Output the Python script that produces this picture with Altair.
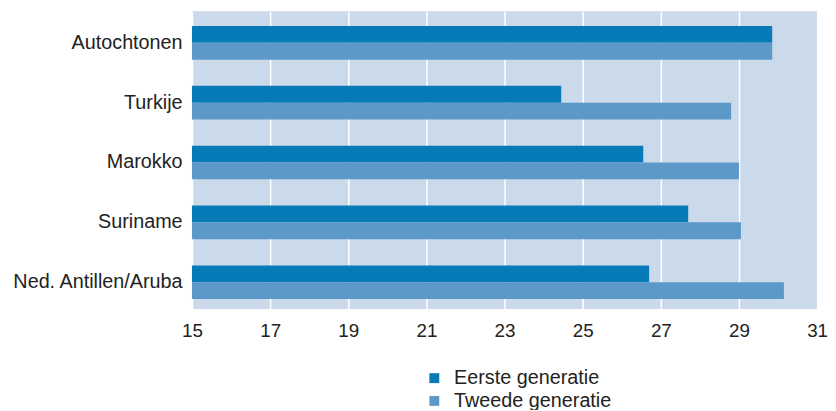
import altair as alt
import pandas as pd

categories = ["Autochtonen", "Turkije", "Marokko", "Suriname", "Ned. Antillen/Aruba"]
eerste = [29.85, 24.45, 26.55, 27.7, 26.7]
tweede = [29.85, 28.8, 29.0, 29.05, 30.15]
series = ["Eerste generatie", "Tweede generatie"]
ticks = [15, 17, 19, 21, 23, 25, 27, 29, 31]

rows = []
for c, a, b in zip(categories, eerste, tweede):
    rows.append({"cat": c, "gen": series[0], "value": a})
    rows.append({"cat": c, "gen": series[1], "value": b})
df = pd.DataFrame(rows)

FONT = "Liberation Sans"
FS = 20

chart = alt.Chart(df).mark_bar().encode(
    y=alt.Y("cat:N", sort=categories, title=None,
            scale=alt.Scale(paddingInner=0.438, paddingOuter=0.2066, align=0.6),
            axis=alt.Axis(domain=False, ticks=False, labelPadding=10,
                          labelFontSize=FS, labelFont=FONT, labelColor="#222222")),
    yOffset=alt.YOffset("gen:N", sort=series),
    x=alt.X("value:Q", title=None,
            scale=alt.Scale(domain=[15, 31], zero=False, nice=False),
            axis=alt.Axis(values=ticks, domain=False, ticks=False, labelPadding=13,
                          labelFontSize=19, labelFont=FONT, labelColor="#222222",
                          grid=True, gridColor="white", gridWidth=1.5,
                          labelFlush=False)),
    x2=alt.datum(15),
    color=alt.Color("gen:N", sort=series, title=None,
                    scale=alt.Scale(domain=series, range=["#067BB8", "#5D99C8"]),
                    legend=alt.Legend(orient="none", legendX=235, legendY=361,
                                      symbolType="square", symbolSize=100,
                                      symbolStrokeWidth=0,
                                      labelFontSize=FS, labelFont=FONT,
                                      labelColor="#222222", rowPadding=3,
                                      labelOffset=10)),
).properties(
    width=632, height=301,
    autosize=alt.AutoSizeParams(type="none"),
    padding={"left": 186, "top": 1, "right": 11, "bottom": 100},
).configure_view(
    fill="#CBDAEA", stroke=None
)

chart.save("out.html", embed_options={"renderer": "svg", "actions": False})
